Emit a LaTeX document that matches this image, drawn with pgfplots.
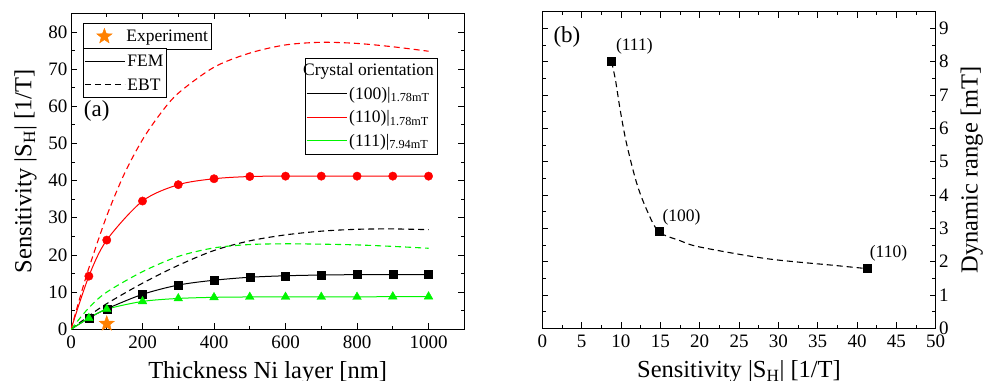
\documentclass[border=0pt]{standalone}
\usepackage{fontspec}
\setmainfont{Liberation Serif}
\usepackage{pgfplots}
\pgfplotsset{compat=1.18}

\definecolor{myred}{RGB}{255,0,0}
\definecolor{mygreen}{RGB}{0,245,0}
\definecolor{myorange}{RGB}{255,128,0}

\pgfdeclareplotmark{fstar}{%
  \pgfpathmoveto{\pgfpointpolar{90}{\pgfplotmarksize}}%
  \pgfpathlineto{\pgfpointpolar{126}{0.42\pgfplotmarksize}}%
  \pgfpathlineto{\pgfpointpolar{162}{\pgfplotmarksize}}%
  \pgfpathlineto{\pgfpointpolar{198}{0.42\pgfplotmarksize}}%
  \pgfpathlineto{\pgfpointpolar{234}{\pgfplotmarksize}}%
  \pgfpathlineto{\pgfpointpolar{270}{0.42\pgfplotmarksize}}%
  \pgfpathlineto{\pgfpointpolar{306}{\pgfplotmarksize}}%
  \pgfpathlineto{\pgfpointpolar{342}{0.42\pgfplotmarksize}}%
  \pgfpathlineto{\pgfpointpolar{18}{\pgfplotmarksize}}%
  \pgfpathlineto{\pgfpointpolar{54}{0.42\pgfplotmarksize}}%
  \pgfpathclose
  \pgfusepathqfillstroke
}

\pgfplotsset{
  every axis/.append style={
    scale only axis,
    tick label style={font=\fontsize{19}{22}\selectfont},
    xticklabel style={yshift=-3pt},
    label style={font=\fontsize{24.5}{28}\selectfont},
    xlabel shift=6pt,
    legend style={font=\fontsize{17.5}{20}\selectfont,
      fill=white, inner xsep=1pt, inner ysep=1pt, row sep=0pt, legend cell align=left,
      nodes={inner ysep=3pt, text height=14pt, text depth=3.5pt}},
    /pgf/number format/assume math mode=true,
    /pgf/number format/1000 sep={},
    major tick length=6pt, minor tick length=3.5pt,
    every tick/.style={line width=0.7pt, black},
    axis line style={line width=0.8pt},
    minor tick num=1,
  },
  leftbox/.style={at={(71pt,50.7pt)}, anchor=south west, width=393.3pt, height=316pt,
    xmin=0, xmax=1100, ymin=0, ymax=85},
}

\pgfplotstableread{
x y
0 0
50 3.0
100 5.5
200 9.4
300 11.9
400 13.2
500 14.0
600 14.4
700 14.6
800 14.7
900 14.7
1000 14.7
}\femA
\pgfplotstableread{
x y
0 0
50 14.3
100 24.0
200 34.5
300 38.9
400 40.5
500 41.1
600 41.2
700 41.2
800 41.2
900 41.2
1000 41.2
}\femB
\pgfplotstableread{
x y
0 0
50 3.0
100 5.4
200 7.5
300 8.3
400 8.6
500 8.7
600 8.7
700 8.7
800 8.7
900 8.8
1000 8.8
}\femC
\pgfplotstableread{
x y
0 0
50 3.6
100 6.9
200 12.4
300 17.2
400 21.2
500 23.8
600 25.4
700 26.4
800 26.9
900 27.0
1000 26.8
}\ebtA
\pgfplotstableread{
x y
0 0
25 8.5
50 16.5
100 30.5
150 42.0
200 51.0
250 58.0
300 63.5
400 70.5
500 74.3
600 76.5
700 77.2
800 76.9
900 76.0
1000 74.8
}\ebtB
\pgfplotstableread{
x y
0 0
50 5.8
100 10.0
200 15.5
300 19.6
400 21.9
500 22.8
600 23.0
700 22.9
800 22.7
900 22.3
1000 21.8
}\ebtC
\pgfplotstableread{
x y
8.8 8.0
9.3 7.45
9.9 6.55
10.7 5.55
12.0 4.35
13.3 3.54
14.8 2.9
17.5 2.63
20.0 2.44
28.5 2.09
37.0 1.89
41.3 1.79
}\dyncurve
\pgfplotstableread{
x y
8.8 8.0
14.8 2.9
41.3 1.79
}\dynpts

\begin{document}
\begin{tikzpicture}
\useasboundingbox (0pt,0pt) rectangle (984pt,380pt);

% ---------- (a) main axis ----------
\begin{axis}[leftbox,
  xtick={0,200,...,1000}, ytick={0,10,...,80},
  xlabel={Thickness Ni layer [nm]},
  ylabel={Sensitivity |S\textsubscript{H}| [1/T]},
  ylabel shift=5pt,
  legend style={at={(0.931,0.860)}, anchor=north east},
  legend image code/.code={\draw[#1] (0pt,0pt) -- (40pt,0pt);},
  dashstyle/.style={dash pattern=on 6pt off 4pt, line width=1.1pt},
]
\addlegendimage{empty legend}
\addlegendentry{\hspace*{-46pt}Crystal orientation}
\addlegendimage{black, line width=1pt}
\addlegendentry{(100)|\textsubscript{1.78mT}}
\addlegendimage{myred, line width=1pt}
\addlegendentry{(110)|\textsubscript{1.78mT}}
\addlegendimage{mygreen, line width=1pt}
\addlegendentry{(111)|\textsubscript{7.94mT}}

\addplot[black, dashstyle, smooth, forget plot] table[x=x,y=y]{\ebtA};
\addplot[myred, dashstyle, smooth, forget plot] table[x=x,y=y]{\ebtB};
\addplot[mygreen, dashstyle, smooth, forget plot] table[x=x,y=y]{\ebtC};

\addplot[black, line width=1pt, smooth, forget plot] table[x=x,y=y]{\femA};
\addplot[myred, line width=1pt, smooth, forget plot] table[x=x,y=y]{\femB};
\addplot[mygreen, line width=1pt, smooth, forget plot] table[x=x,y=y]{\femC};

\addplot[black, only marks, mark=square*, mark size=4pt, forget plot]
  table[x=x,y=y, skip coords between index={0}{1}]{\femA};
\addplot[myred, only marks, mark=*, mark size=4.2pt, forget plot]
  table[x=x,y=y, skip coords between index={0}{1}]{\femB};
\addplot[mygreen, only marks, mark=triangle*, mark size=5pt, forget plot]
  table[x=x,y=y, skip coords between index={0}{1}]{\femC};

\node[font=\fontsize{23}{27}\selectfont] at (axis cs:72,58.8) {(a)};
\end{axis}

% ---------- (a) experiment legend ----------
\begin{axis}[leftbox, hide axis,
  legend style={at={(0.031,0.968)}, anchor=north west},
  legend image code/.code={%
    \path[draw=none, fill=none] (0pt,-5pt) rectangle (40pt,5pt);
    \draw[mark repeat=2,mark phase=2,#1] plot coordinates {(0pt,0pt) (20pt,0pt) (40pt,0pt)};},
]
\addplot[myorange, only marks, mark=fstar, mark size=8pt] coordinates {(100,1.5)};
\addlegendentry{Experiment}
\end{axis}

% ---------- (a) FEM/EBT legend ----------
\begin{axis}[leftbox, hide axis,
  legend style={at={(0.031,0.889)}, anchor=north west},
  legend image code/.code={\draw[#1] (0pt,0pt) -- (40pt,0pt);},
]
\addlegendimage{black, line width=1pt}
\addlegendentry{FEM}
\addlegendimage{black, dash pattern=on 6pt off 4pt, line width=1.1pt}
\addlegendentry{EBT}
\end{axis}

% ---------- (b) ----------
\begin{axis}[at={(542.3pt,51.7pt)}, anchor=south west, width=393.4pt, height=316.6pt,
  xmin=0, xmax=50, ymin=0, ymax=9.5,
  xtick={0,5,...,50}, ytick={0,1,...,9},
  yticklabel pos=right,
  xlabel={Sensitivity |S\textsubscript{H}| [1/T]},
  ylabel={Dynamic range [mT]},
  ylabel shift=5pt,
]
\addplot[black, dash pattern=on 6pt off 4pt, line width=1.1pt, smooth] table[x=x,y=y]{\dyncurve};
\addplot[black, only marks, mark=square*, mark size=4pt] table[x=x,y=y]{\dynpts};
\node[font=\fontsize{23}{27}\selectfont] at (axis cs:3.13,8.75) {(b)};
\node[font=\fontsize{17.5}{20}\selectfont] at (axis cs:11.7,8.47) {(111)};
\node[font=\fontsize{17.5}{20}\selectfont] at (axis cs:17.7,3.34) {(100)};
\node[font=\fontsize{17.5}{20}\selectfont] at (axis cs:44.0,2.24) {(110)};
\end{axis}
\end{tikzpicture}
\end{document}
